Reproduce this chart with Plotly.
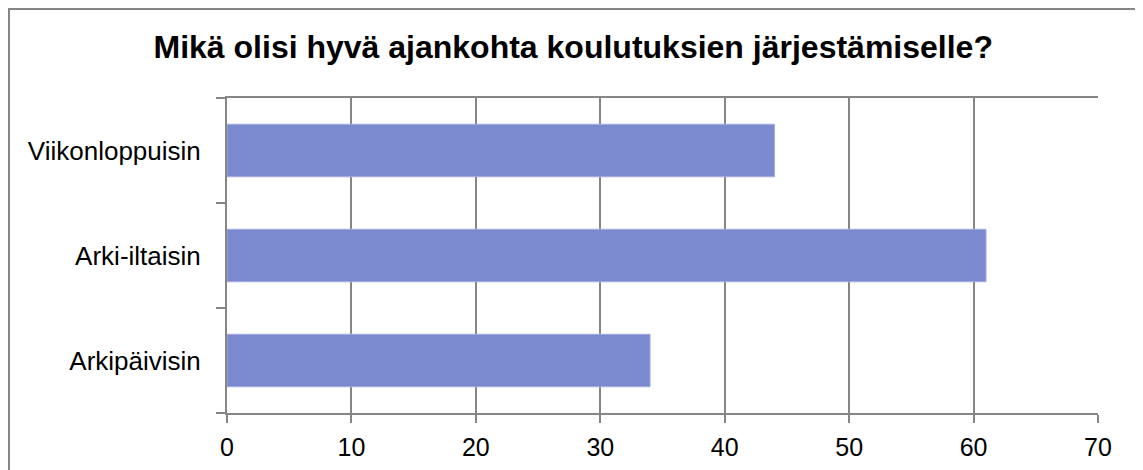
"""Horizontal bar chart: preferred timing for training sessions."""

import plotly.graph_objects as go

CATEGORIES = ["Arkipäivisin", "Arki-iltaisin", "Viikonloppuisin"]
VALUES = [34, 61, 44]
X_TICKS = [0, 10, 20, 30, 40, 50, 60, 70]
TITLE = "Mikä olisi hyvä ajankohta koulutuksien järjestämiselle?"

# the page body adds an 8px margin, so the figure is sized to the rest
W, H = 1135, 462
L, R, T, B = 219, 45, 90, 57
GRAY = "#868686"
FONT = "Liberation Sans, Arial, sans-serif"


def px_to_paper(px_x, px_y):
    pw, ph = W - L - R, H - T - B
    return (px_x - L) / pw, 1 - (px_y - T) / ph


fig = go.Figure(
    go.Bar(
        x=VALUES,
        y=CATEGORIES,
        orientation="h",
        marker=dict(color="#7B89CF", line=dict(color="#A3ADE0", width=1)),
        hoverinfo="x+y",
    )
)

x0, y0 = px_to_paper(1, 1)
x1, y1 = px_to_paper(1131, 470)
fig.add_shape(
    type="rect", xref="paper", yref="paper",
    x0=x0, y0=y1, x1=x1, y1=y0,
    line=dict(color=GRAY, width=2), layer="below",
)

fig.update_layout(
    width=W,
    height=H,
    margin=dict(l=L, r=R, t=T, b=B, autoexpand=False),
    paper_bgcolor="white",
    plot_bgcolor="white",
    bargap=0.5,
    showlegend=False,
    font=dict(family=FONT, size=25, color="black"),
    title=dict(
        text=f"<b>{TITLE}</b>",
        x=0.498, xanchor="center",
        y=0.915, yanchor="middle",
        font=dict(family=FONT, size=32, color="black"),
        automargin=False,
    ),
)

fig.update_xaxes(
    range=[0, 70],
    tickvals=X_TICKS,
    showgrid=True,
    gridcolor=GRAY,
    gridwidth=2,
    showline=True,
    linecolor=GRAY,
    linewidth=2,
    mirror=True,
    ticks="outside",
    ticklen=8,
    tickwidth=2,
    tickcolor=GRAY,
    ticklabelstandoff=3,
    zeroline=False,
    automargin=False,
    tickfont=dict(family=FONT, size=25),
)

fig.update_yaxes(
    type="category",
    categoryorder="array",
    categoryarray=CATEGORIES,
    showgrid=False,
    showline=True,
    linecolor=GRAY,
    linewidth=2,
    ticks="outside",
    tickson="boundaries",
    ticklen=9,
    tickwidth=2,
    tickcolor=GRAY,
    ticklabelstandoff=19,
    automargin=False,
    tickfont=dict(family=FONT, size=26),
)

fig.write_html("out.html")
